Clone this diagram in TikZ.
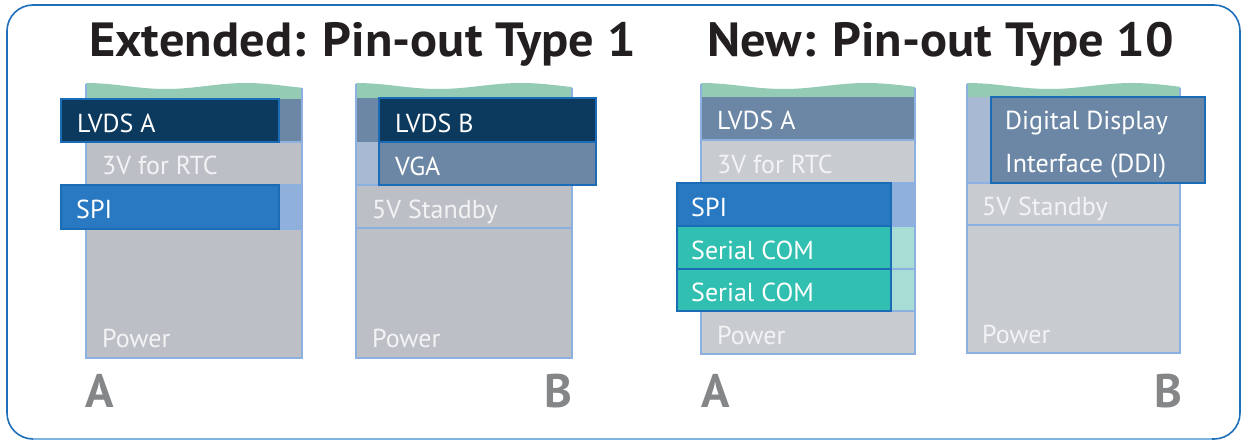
\documentclass[tikz,border=0pt]{standalone}
\usepackage{fontspec}
\setmainfont{PT Sans}
\newfontfamily\titlefont{PT Sans}[FakeStretch=1.05]
\usepackage{tikz}

\definecolor{navy}{HTML}{0B3A5E}
\definecolor{slate}{HTML}{6C87A5}
\definecolor{paleslate}{HTML}{A8BAD3}
\definecolor{pingray}{HTML}{BCC0C6}
\definecolor{pingraylt}{HTML}{C8CBD0}
\definecolor{spiblue}{HTML}{2878C2}
\definecolor{paleblue}{HTML}{90B0DC}
\definecolor{comteal}{HTML}{30BFB0}
\definecolor{paleteal}{HTML}{A8DDD6}
\definecolor{wavegreen}{HTML}{93CBB4}
\definecolor{rowline}{HTML}{8CB0E0}
\definecolor{boxline}{HTML}{1A6CB6}
\definecolor{frameblue}{HTML}{1E6FBA}
\definecolor{framepale}{HTML}{7DB4E0}
\definecolor{letter}{HTML}{858688}
\definecolor{rowtext}{HTML}{F2F3F4}
\definecolor{titleink}{HTML}{231F20}

\tikzset{
  pintext/.style={anchor=base west, inner sep=0pt, text=rowtext, font=\fontsize{26}{30}\selectfont},
  boxtext/.style={pintext, text=white},
  popbox/.style={draw=boxline, line width=2pt},
  sepline/.style={draw=rowline, line width=1.5pt},
  sidetext/.style={anchor=base, inner sep=0pt, text=letter, font=\fontsize{47}{50}\selectfont\bfseries},
  titletext/.style={anchor=base west, inner sep=0pt, text=titleink, font=\titlefont\fontsize{48}{52}\selectfont\bfseries}
}

\begin{document}
\begin{tikzpicture}[x=1pt,y=-1pt]
    \useasboundingbox (0,0) rectangle (1244,441);
    \draw[frameblue,line width=1.6pt,rounded corners=26pt] (7,5) rectangle (1240,439);
    \draw[framepale,line width=1.6pt] (33,439)--(1212,439);
    % titles
    \node[titletext] (title1) at (89,57) {Extended: Pin-out Type 1};
    \node[titletext] (title10) at (707,57) {New: Pin-out Type 10};
    % type 1, side A
    \fill[wavegreen] (86,99)--plot[domain=86:302,smooth,samples=40](\x,{86-3*cos((\x-86)*2.25)})--(302,99)--cycle;
    \fill[pingray] (86,99) rectangle (302,358);
    \fill[slate] (86,99) rectangle (302,142);
    \fill[paleblue] (86,185) rectangle (302,229);
    \draw[sepline] (86,142)--(302,142) (86,185)--(302,185) (86,229)--(302,229);
    \draw[sepline] (86,84)--(86,358)--(302,358)--(302,88);
    \filldraw[popbox,fill=navy] (61,99) rectangle (279,142);
    \filldraw[popbox,fill=spiblue] (61,185) rectangle (279,229);
    \node[boxtext] (a1lvds) at (77,132) {LVDS A};
    \node[pintext] (a1rtc) at (102,174) {3V for RTC};
    \node[boxtext] (a1spi) at (76,218) {SPI};
    \node[pintext] (a1pwr) at (102,347) {Power};
    % type 1, side B
    \fill[wavegreen] (356,98)--plot[domain=356:572,smooth,samples=40](\x,{86-3*cos((\x-356)*2.18)})--(572,98)--cycle;
    \fill[pingray] (356,98) rectangle (572,358);
    \fill[slate] (356,98) rectangle (379,142);
    \fill[paleslate] (356,142) rectangle (379,185);
    \draw[sepline] (356,185)--(572,185) (356,228)--(572,228);
    \draw[sepline] (356,84)--(356,358)--(572,358)--(572,88);
    \filldraw[popbox,fill=navy] (379,98) rectangle (596,142);
    \filldraw[popbox,fill=slate] (379,142) rectangle (596,185);
    \node[boxtext] (b1lvds) at (395,132) {LVDS B};
    \node[boxtext] (b1vga) at (395,175) {VGA};
    \node[pintext] (b1stby) at (372,218) {5V Standby};
    \node[pintext] (b1pwr) at (372,347) {Power};
    % type 10, side A
    \fill[wavegreen] (701,97)--plot[domain=701:915,smooth,samples=40](\x,{86-3*cos((\x-701)*2.18)})--(915,97)--cycle;
    \fill[pingraylt] (701,97) rectangle (915,354);
    \fill[slate] (701,97) rectangle (915,140);
    \fill[paleblue] (891,183) rectangle (915,226);
    \fill[paleteal] (891,226) rectangle (915,311);
    \draw[sepline] (701,140)--(915,140) (701,183)--(915,183) (701,226)--(915,226) (701,269)--(915,269) (701,311)--(915,311);
    \draw[sepline] (701,84)--(701,354)--(915,354)--(915,88);
    \filldraw[popbox,fill=spiblue] (677,183) rectangle (891,226);
    \filldraw[popbox,fill=comteal] (677,226) rectangle (891,269);
    \filldraw[popbox,fill=comteal] (677,269) rectangle (891,311);
    \node[boxtext] (a10lvds) at (717,130) {LVDS A};
    \node[pintext] (a10rtc) at (717,173) {3V for RTC};
    \node[boxtext] (a10spi) at (691,216) {SPI};
    \node[boxtext] (a10com1) at (691,259) {Serial COM};
    \node[boxtext] (a10com2) at (691,301) {Serial COM};
    \node[pintext] (a10pwr) at (717,344) {Power};
    % type 10, side B
    \fill[wavegreen] (967,97)--plot[domain=967:1180,smooth,samples=40](\x,{86-3*cos((\x-967)*2.18)})--(1180,97)--cycle;
    \fill[pingraylt] (967,97) rectangle (1180,353);
    \fill[paleslate] (967,97) rectangle (991,183);
    \draw[sepline] (967,183)--(1180,183) (967,225)--(1180,225);
    \draw[sepline] (967,84)--(967,353)--(1180,353)--(1180,88);
    \filldraw[popbox,fill=slate] (991,97) rectangle (1205,183);
    \node[boxtext] (b10ddi1) at (1005,129) {Digital Display};
    \node[boxtext] (b10ddi2) at (1005,172) {Interface (DDI)};
    \node[pintext] (b10stby) at (982,215) {5V Standby};
    \node[pintext] (b10pwr) at (982,343) {Power};
    % side letters
    \node[sidetext] (a1) at (99.5,407) {A};
    \node[sidetext] (b1) at (558,407) {B};
    \node[sidetext] (a10) at (715.5,407) {A};
    \node[sidetext] (b10) at (1168.5,407) {B};
\end{tikzpicture}
\end{document}
